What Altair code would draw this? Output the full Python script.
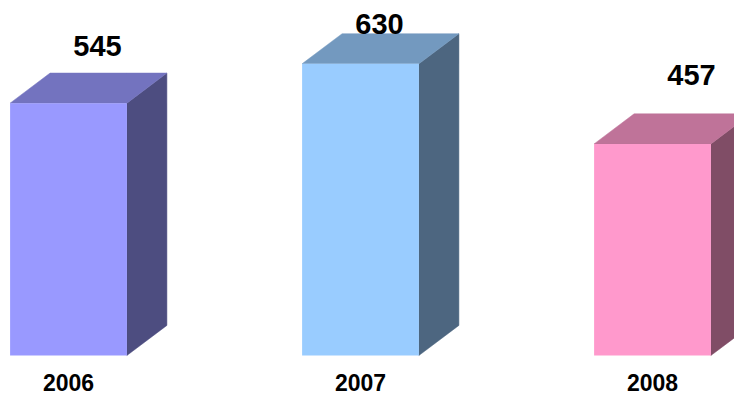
import altair as alt
import pandas as pd

years = ["2006", "2007", "2008"]
values = [545, 630, 457]
front_colors = ["#9999FF", "#99CCFF", "#FF99CC"]
top_colors = ["#7373BF", "#7399BF", "#BF7399"]
side_colors = ["#4D4D80", "#4D6680", "#804D66"]
# per-label nudges (pixels) for the value labels
label_dx = [29, 19, 39]
label_dy = [-56, -39, -68]

HALF = 0.2      # half bar width, in category units
DX = 0.137      # depth, in category units
DY = 65         # depth, in value units

front = pd.DataFrame({
    "year": years,
    "i": list(range(len(years))),
    "v": values,
    "x": [k - HALF for k in range(len(years))],
    "x2": [k + HALF for k in range(len(years))],
    "zero": [0] * len(years),
    "fill": front_colors,
})

side_rows, top_rows = [], []
for k, (yr, v) in enumerate(zip(years, values)):
    side_rows.append({"year": yr, "x": k + HALF, "lo": 0, "hi": v, "fill": side_colors[k]})
    side_rows.append({"year": yr, "x": k + HALF + DX, "lo": DY, "hi": v + DY, "fill": side_colors[k]})
    top_rows.append({"year": yr, "x": k - HALF, "lo": v, "hi": v, "fill": top_colors[k]})
    top_rows.append({"year": yr, "x": k - HALF + DX, "lo": v, "hi": v + DY, "fill": top_colors[k]})
    top_rows.append({"year": yr, "x": k + HALF, "lo": v, "hi": v + DY, "fill": top_colors[k]})
    top_rows.append({"year": yr, "x": k + HALF + DX, "lo": v + DY, "hi": v + DY, "fill": top_colors[k]})
side = pd.DataFrame(side_rows)
top = pd.DataFrame(top_rows)

xs = alt.Scale(domain=[-0.2072, 2.2791], nice=False, zero=False)
ys = alt.Scale(domain=[-96.1, 750.5], nice=False, zero=False)
FONT = "Liberation Sans, Arial, sans-serif"

front_layer = alt.Chart(front).mark_rect().encode(
    x=alt.X("x:Q", scale=xs, axis=None),
    x2="x2:Q",
    y=alt.Y("zero:Q", scale=ys, axis=None),
    y2="v:Q",
    fill=alt.Fill("fill:N", scale=None),
)

side_layer = alt.Chart(side).mark_area(strokeWidth=0.5, clip=True).encode(
    x=alt.X("x:Q", scale=xs, axis=None),
    y=alt.Y("lo:Q", scale=ys, axis=None, stack=False),
    y2="hi:Q",
    fill=alt.Fill("fill:N", scale=None),
    stroke=alt.Stroke("fill:N", scale=None),
    detail="year:N",
)

top_layer = alt.Chart(top).mark_area(strokeWidth=0.5, clip=True).encode(
    x=alt.X("x:Q", scale=xs, axis=None),
    y=alt.Y("lo:Q", scale=ys, axis=None, stack=False),
    y2="hi:Q",
    fill=alt.Fill("fill:N", scale=None),
    stroke=alt.Stroke("fill:N", scale=None),
    detail="year:N",
)

year_labels = alt.Chart(front).mark_text(
    font=FONT, fontWeight="bold", fontSize=23, baseline="alphabetic", align="center", color="black"
).encode(
    x=alt.X("i:Q", scale=xs, axis=None),
    y=alt.value(383),
    text="year:N",
)

value_layers = []
for k, yr in enumerate(years):
    value_layers.append(
        alt.Chart(front).transform_filter(alt.datum.year == yr).mark_text(
            font=FONT, fontWeight="bold", fontSize=29, baseline="middle", align="center",
            color="black", dx=label_dx[k], dy=label_dy[k]
        ).encode(
            x=alt.X("i:Q", scale=xs, axis=None),
            y=alt.Y("v:Q", scale=ys, axis=None),
            text="v:Q",
        )
    )

chart = alt.layer(side_layer, top_layer, front_layer, year_labels, *value_layers).properties(
    width=726, height=392, padding=0, autosize=alt.AutoSizeParams(type="none")
).configure_view(strokeWidth=0)

chart.save("out.html", embed_options={"renderer": "svg", "actions": False})
